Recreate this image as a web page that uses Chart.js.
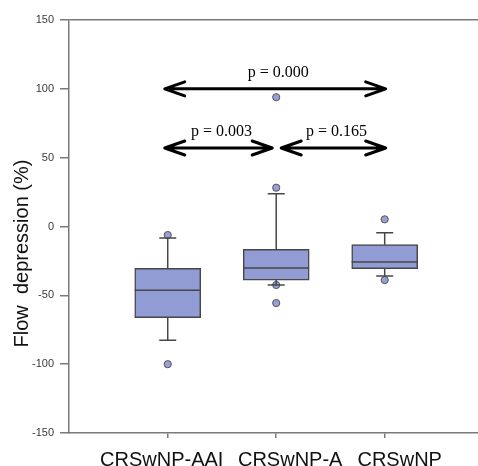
<!DOCTYPE html>
<html><head><meta charset="utf-8">
<script src="https://cdn.jsdelivr.net/npm/chart.js@4/dist/chart.umd.min.js"></script>
<style>html,body{margin:0;padding:0;background:#fff}</style>
</head><body>
<canvas id="c" width="478" height="466"></canvas>
<script>
// ---------- data ----------
const categories = ['CRSwNP-AAI', 'CRSwNP-A', 'CRSwNP'];
const categoryX = [1, 2, 3];
const q1 = [-66.2, -38.9, -30.7];
const medians = [-46.3, -30.1, -25.8];
const q3 = [-30.4, -16.6, -13.2];
const whiskerLow = [-82.7, -42.5, -36.0];
const whiskerHigh = [-8.4, 23.8, -4.5];
const outliers = [[-6.2, -100], [93.9, 28.2, -42.5, -55.6], [5.2, -38.9]];
const yTicks = [150, 100, 50, 0, -50, -100, -150];
const compFrom = [0, 0, 1];
const compTo = [2, 1, 2];
const compLevel = [100, 57, 57];
const compLabels = ['p = 0.000', 'p = 0.003', 'p = 0.165'];
const yTitle = 'Flow  depression (%)';

// ---------- layout / style (not data) ----------
const AXIS = '#7a7a7a';
const BOX_FILL = 'rgb(145,155,212)';
const BOX_EDGE = '#474747';
const arrowTipOffsets = [[-3, 1], [-3, -4], [5, 1]];
const xLabelOffsets = [-6, 14, 15];

const boxData = categoryX.map((cx, i) => ({x: cx, y: [q1[i], q3[i]]}));
const outlierData = [];
outliers.forEach((arr, i) => arr.forEach(v => outlierData.push({x: categoryX[i], y: v})));

const extras = {
  id: 'extras',
  afterDatasetsDraw(chart) {
    const {ctx, scales: {x, y}} = chart;
    ctx.save();
    ctx.strokeStyle = BOX_EDGE;
    ctx.lineWidth = 1.5;
    categoryX.forEach((cx, i) => {
      const px = x.getPixelForValue(cx);
      const half = 33, cap = 8.5;
      ctx.beginPath();
      ctx.moveTo(px, y.getPixelForValue(q3[i]));
      ctx.lineTo(px, y.getPixelForValue(whiskerHigh[i]));
      ctx.moveTo(px, y.getPixelForValue(q1[i]));
      ctx.lineTo(px, y.getPixelForValue(whiskerLow[i]));
      const yh = y.getPixelForValue(whiskerHigh[i]);
      const yl = y.getPixelForValue(whiskerLow[i]);
      ctx.moveTo(px - cap, yh); ctx.lineTo(px + cap, yh);
      ctx.moveTo(px - cap, yl); ctx.lineTo(px + cap, yl);
      const ym = y.getPixelForValue(medians[i]);
      ctx.moveTo(px - half, ym); ctx.lineTo(px + half, ym);
      ctx.stroke();
    });
    ctx.strokeStyle = '#000';
    ctx.fillStyle = '#000';
    ctx.lineWidth = 3;
    ctx.lineCap = 'round';
    ctx.lineJoin = 'round';
    ctx.font = '16px "Liberation Serif", "Times New Roman", serif';
    ctx.textAlign = 'center';
    ctx.textBaseline = 'alphabetic';
    compFrom.forEach((f, k) => {
      const x1 = x.getPixelForValue(categoryX[f]) + arrowTipOffsets[k][0];
      const x2 = x.getPixelForValue(categoryX[compTo[k]]) + arrowTipOffsets[k][1];
      const yy = y.getPixelForValue(compLevel[k]);
      const L = 20, S = 7;
      ctx.beginPath();
      ctx.moveTo(x1 + 1, yy); ctx.lineTo(x2 - 1, yy);
      ctx.moveTo(x1 + L, yy - S); ctx.lineTo(x1, yy); ctx.lineTo(x1 + L, yy + S);
      ctx.moveTo(x2 - L, yy - S); ctx.lineTo(x2, yy); ctx.lineTo(x2 - L, yy + S);
      ctx.stroke();
      ctx.fillText(compLabels[k], (x1 + x2) / 2 + 3, yy - 12);
    });
    ctx.restore();
  },
  afterDraw(chart) {
    const {ctx, scales: {x}, chartArea} = chart;
    ctx.save();
    ctx.fillStyle = '#111';
    ctx.font = '20px "Liberation Sans", Arial, sans-serif';
    ctx.textAlign = 'center';
    ctx.textBaseline = 'alphabetic';
    categories.forEach((c, i) => {
      ctx.fillText(c, x.getPixelForValue(categoryX[i]) + xLabelOffsets[i], chartArea.bottom + 33);
    });
    ctx.translate(22, (chartArea.top + chartArea.bottom) / 2 + 27);
    ctx.rotate(-Math.PI / 2);
    ctx.textBaseline = 'middle';
    ctx.font = '20px "Liberation Sans", Arial, sans-serif';
    ctx.fillText(yTitle, 0, 0);
    ctx.restore();
  }
};

new Chart(document.getElementById('c'), {
  type: 'bar',
  data: {
    datasets: [
      {
        type: 'bar',
        data: boxData,
        backgroundColor: BOX_FILL,
        borderColor: BOX_EDGE,
        borderWidth: 1.5,
        borderSkipped: false,
        barThickness: 66,
        order: 2
      },
      {
        type: 'scatter',
        data: outlierData,
        backgroundColor: 'rgb(150,160,215)',
        borderColor: '#555',
        borderWidth: 1,
        pointRadius: 3.6,
        order: 1
      }
    ]
  },
  options: {
    responsive: false,
    animation: false,
    layout: {autoPadding: false, padding: {top: 20, right: 0, bottom: 0, left: 0}},
    plugins: {legend: {display: false}, tooltip: {enabled: false}},
    scales: {
      x: {
        type: 'linear',
        offset: false,
        min: 0.09,
        max: 3.86,
        afterBuildTicks: s => { s.ticks = categoryX.map(v => ({value: v})); },
        afterFit: s => { s.height = 33; },
        ticks: {callback: () => '', padding: 0},
        grid: {offset: false, drawOnChartArea: false, tickLength: 5, tickColor: AXIS, lineWidth: 1.5},
        border: {color: AXIS, width: 1.5}
      },
      y: {
        type: 'linear',
        min: -150,
        max: 150,
        afterBuildTicks: s => { s.ticks = yTicks.map(v => ({value: v})); },
        afterFit: s => { s.width = 69; },
        ticks: {
          color: '#3a3a3a',
          font: {family: '"Liberation Sans", Arial, sans-serif', size: 11},
          padding: 6
        },
        grid: {
          tickLength: 9,
          tickColor: AXIS,
          lineWidth: 1.5,
          color: c => (c.tick && c.tick.value === 150 ? AXIS : 'rgba(0,0,0,0)')
        },
        border: {color: AXIS, width: 1.5}
      }
    }
  },
  plugins: [extras]
});
</script>
</body></html>
